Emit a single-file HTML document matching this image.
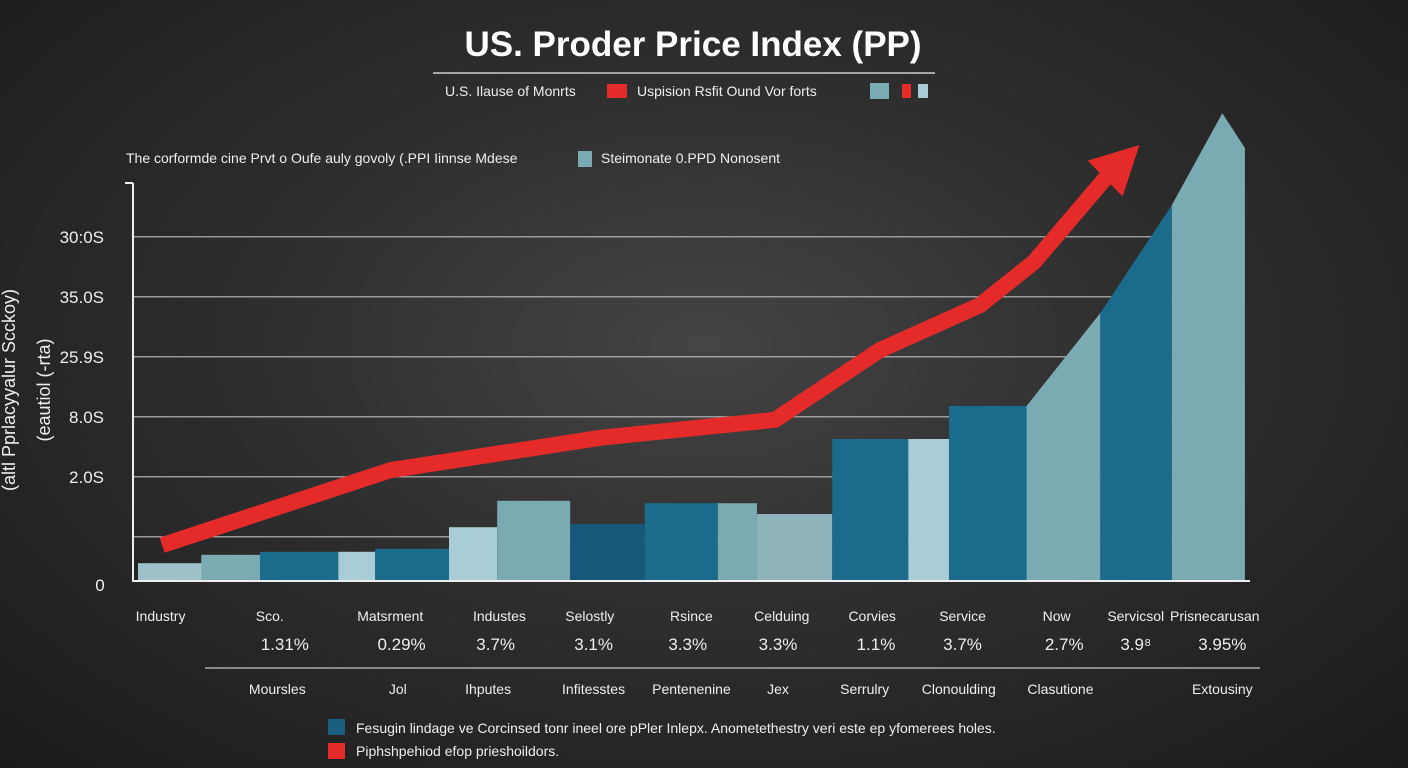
<!DOCTYPE html>
<html><head><meta charset="utf-8"><style>
html,body{margin:0;padding:0}
body{width:1408px;height:768px;overflow:hidden;background:radial-gradient(ellipse at 50% 45%,#444 0%,#2e2e2e 45%,#1b1b1b 100%);font-family:"Liberation Sans",sans-serif;color:#fff}
svg{position:absolute;left:0;top:0}
</style></head><body>
<svg width="1408" height="768">
<text x="693" y="56" text-anchor="middle" font-size="35" font-weight="bold" fill="#fff">US. Proder Price  Index (PP)</text>
<line x1="433" y1="73" x2="935" y2="73" stroke="#ccc" stroke-width="1.5"/>
<g font-size="14" fill="#eee">
<text x="445" y="96">U.S. Ilause of Monrts</text>
<rect x="607" y="84" width="20" height="14" fill="#e52a2a"/>
<text x="637" y="96">Uspision Rsfit Ound Vor forts</text>
<rect x="870" y="83" width="19" height="16" fill="#7aaab2"/>
<rect x="902" y="84" width="9" height="14" fill="#e52a2a"/>
<rect x="918" y="84" width="10" height="14" fill="#a9cdd6"/>
</g>
<g font-size="14" fill="#eee">
<text x="126" y="163">The corformde cine Prvt o Oufe auly govoly (.PPI Iinnse Mdese</text>
<rect x="578" y="151" width="14" height="16" fill="#7aaab2"/>
<text x="601" y="163">Steimonate 0.PPD Nonosent</text>
</g>
<g font-size="18" fill="#eee">
<text transform="translate(15,390) rotate(-90)" text-anchor="middle">(altl Pprlacyyalur Scckoy)</text>
<text transform="translate(50,390) rotate(-90)" text-anchor="middle">(eautiol (-rta)</text>
</g>
<g id="grid"></g><g id="bars"></g><g id="line"></g><g id="labels"></g>
<line x1="133" y1="183" x2="133" y2="582" stroke="#eee" stroke-width="2"/>
<line x1="125" y1="183" x2="133" y2="183" stroke="#eee" stroke-width="2"/>
<line x1="133" y1="581" x2="1250" y2="581" stroke="#eee" stroke-width="2"/>
<line x1="205" y1="668" x2="1260" y2="668" stroke="#aaa" stroke-width="1.5"/>
<g font-size="14" fill="#eee">
<rect x="328" y="719" width="17" height="16" fill="#1a5f80"/>
<text x="356" y="733">Fesugin lindage ve Corcinsed tonr ineel ore pPler Inlepx. Anometethestry veri este ep yfomerees holes.</text>
<rect x="328" y="743" width="17" height="16" fill="#e52a2a"/>
<text x="356" y="756">Piphshpehiod efop prieshoildors.</text>
</g>
</svg>
<script>
const tickVals=[5.72,4.72,3.72,2.72,1.72,0.72,0];
const tickLabels=["30:0S","35.0S","25.9S","8.0S","2.0S","","0"];
const barStarts=[0,0.84,1.62,2.66,3.15,4.13,4.77,5.74,6.73,7.70,8.22,9.22,10.23,10.77];
const barEnds=[1.04,1.62,2.66,3.15,4.13,4.77,5.74,6.73,7.70,8.22,9.22,10.23,10.77,11.8];
const barValues=[0.28,0.42,0.47,0.47,0.52,0.88,1.32,0.93,1.28,1.28,1.1,2.35,2.35,2.9];
const barColors=["#9fc1c9","#7aaab2","#1a6b8c","#a9cdd6","#1a6b8c","#a9cdd6","#7aaab2","#15587a","#1a6b8c","#7aaab2","#8fb3bb","#1a6b8c","#a9cdd6","#1a6b8c"];
const areaX=[11.8,12.78,12.78,13.73,13.73,14.4,14.7];
const areaV=[2.9,4.45,4.45,6.25,6.25,7.78,7.2];
const lineX=[0.32,3.35,6.14,8.46,9.85,11.18,11.9,12.85,13.3];
const lineV=[0.58,1.83,2.37,2.67,3.83,4.58,5.3,6.7,7.25];
const cats=["Industry","Sco.","Matsrment","Industes","Selostly","Rsince","Celduing","Corvies","Service","Now","Servicsol","Prisnecarusan"];
const catPos=[0.3,1.75,3.35,4.8,6.0,7.35,8.55,9.75,10.95,12.2,13.25,14.3];
const pcts=["1.31%","0.29%","3.7%","3.1%","3.3%","3.3%","1.1%","3.7%","2.7%","3.9⁸","3.95%"];
const pctPos=[1.95,3.5,4.75,6.05,7.3,8.5,9.8,10.95,12.3,13.25,14.4];
const subs=["Moursles","Jol","Ihputes","Infitesstes","Pentenenine","Jex","Serrulry","Clonoulding","Clasutione","Extousiny"];
const subPos=[1.85,3.45,4.65,6.05,7.35,8.5,9.65,10.9,12.25,14.4];
const xS=v=>138+v*75.3;
const yS=v=>580-v*60;
const ns="http://www.w3.org/2000/svg";
function mk(t,p,a){const e=document.createElementNS(ns,t);for(const k in a)e.setAttribute(k,a[k]);document.getElementById(p).appendChild(e);return e;}
tickVals.forEach((v,i)=>{
 if(v>0){const g=mk('line','grid',{x1:133,x2:1243,y1:yS(v),y2:yS(v),stroke:'#bbb','stroke-width':1.2});
 
 }
 const t=mk('text','grid',{x:v>0?104:100,y:yS(v)+(v>0?6:11),'text-anchor':v>0?'end':'middle','font-size':17,fill:'#eee'});t.textContent=tickLabels[i];
 
 
});
barValues.forEach((v,i)=>{
 const r=mk('rect','bars',{x:xS(barStarts[i]),y:yS(v),width:xS(barEnds[i])-xS(barStarts[i]),height:yS(0)-yS(v),fill:barColors[i]});
 
 
});
const areaCols=["#7aaab2","#1a6b8c","#7aaab2"];
for(let k=0;k<3;k++){
 const i=k*2,x0=xS(areaX[i]),x1=xS(areaX[i+1]);
 let pts=`${x0},${yS(0)} ${x0},${yS(areaV[i])} `;
 if(k==2){pts+=`${xS(areaX[5])},${yS(areaV[5])} ${xS(areaX[6])},${yS(areaV[6])} ${xS(areaX[6])},${yS(0)}`;}
 else pts+=`${x1},${yS(areaV[i+1])} ${x1},${yS(0)}`;
 const p=mk('polygon','bars',{points:pts,fill:areaCols[k]});
 
 
}
const n=lineX.length;
const pl=mk('polyline','line',{points:lineX.slice(0,n-1).map((x,i)=>xS(x)+','+yS(lineV[i])).join(' '),fill:'none',stroke:'#e52a2a','stroke-width':16,'stroke-linejoin':'round'});


const ax=xS(lineX[n-2]),ay=yS(lineV[n-2]),tx=xS(lineX[n-1]),ty=yS(lineV[n-1]);
const dx=tx-ax,dy=ty-ay,L=Math.hypot(dx,dy),ux=dx/L,uy=dy/L,px=-uy,py=ux,bl=48,hw=25;
const cx=tx-ux*bl,cy=ty-uy*bl;
const ah=mk('polygon','line',{points:`${tx},${ty} ${cx+px*hw},${cy+py*hw} ${cx-px*hw},${cy-py*hw}`,fill:'#e52a2a'});


function lab(arr,pos,y,name){arr.forEach((s,i)=>{const t=mk('text','labels',{x:xS(pos[i]),y:y,'text-anchor':'middle','font-size':name=='pct-label'?17:14,fill:'#eee'});t.textContent=s;
 
 });}
lab(cats,catPos,621,'category-label');
lab(pcts,pctPos,650,'pct-label');
lab(subs,subPos,694,'sub-label');
</script>
</body></html>
